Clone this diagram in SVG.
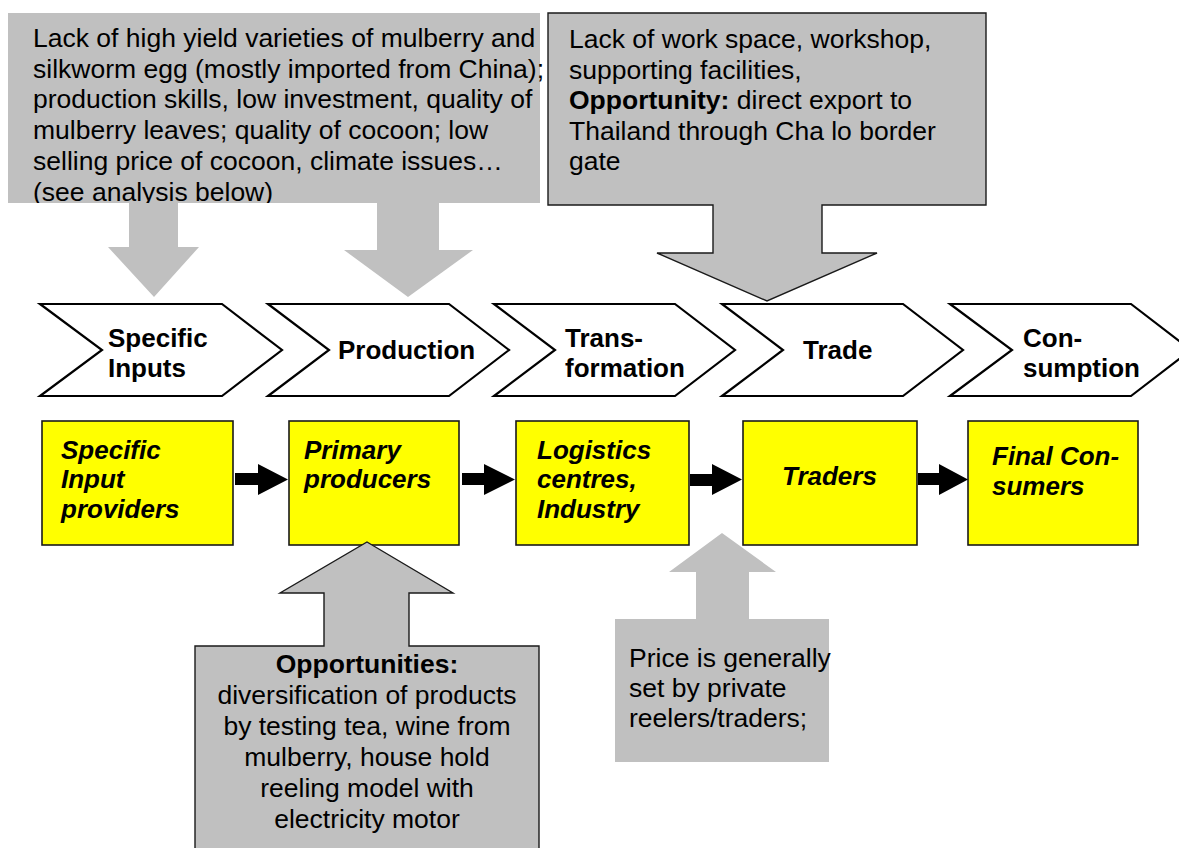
<svg xmlns="http://www.w3.org/2000/svg" width="1179" height="848" viewBox="0 0 1179 848">
<style>
text{font-family:"Liberation Sans",Arial,sans-serif;font-size:26.5px;fill:#000}
.b{font-weight:bold}
.bi{font-weight:bold;font-style:italic;font-size:26px}
.cv{font-weight:bold;font-size:26px}
.gray{fill:#C0C0C0}
.grays{fill:#C0C0C0;stroke:#1a1a1a;stroke-width:1.4}
.chev{fill:#fff;stroke:#000;stroke-width:2.2;stroke-linejoin:miter}
.ybox{fill:#FFFF00;stroke:#1a1a1a;stroke-width:1.6}
.blk{fill:#000}
.c{text-anchor:middle}
</style>
<defs>
<clipPath id="clipTL"><rect x="0" y="0" width="1179" height="203"/></clipPath>
</defs>
<rect width="1179" height="848" fill="#fff"/>

<g id="callout-top-left">
<rect class="gray" x="8" y="13" width="532" height="190"/>
<polygon class="gray" points="129,203 178,203 178,247 199,247 154,297 108,247 129,247"/>
<polygon class="gray" points="377,203 439,203 439,250 473,250 408,297 344,250 377,250"/>
<g clip-path="url(#clipTL)">
<text x="33" y="47">Lack of high yield varieties of mulberry and</text>
<text x="33" y="78">silkworm egg (mostly imported from China);</text>
<text x="33" y="108">production skills, low investment, quality of</text>
<text x="33" y="139">mulberry leaves; quality of cocoon; low</text>
<text x="33" y="170">selling price of cocoon, climate issues…</text>
<text x="33" y="201">(see analysis below)</text>
</g>
</g>

<g id="callout-top-right">
<path class="grays" d="M548,13 H986 V205 H822 V253 H877 L767,301 L657,253 H713 V205 H548 Z"/>
<text x="569" y="48">Lack of work space, workshop,</text>
<text x="569" y="79">supporting facilities,</text>
<text x="569" y="109"><tspan class="b">Opportunity:</tspan> direct export to</text>
<text x="569" y="140">Thailand through Cha lo border</text>
<text x="569" y="170">gate</text>
</g>

<g id="stage-specific-inputs">
<polygon class="chev" points="40,304 222,304 282,350 222,396 40,396 102,350"/>
<text class="cv" x="108" y="347">Specific</text>
<text class="cv" x="108" y="377">Inputs</text>
</g>
<g id="stage-production">
<polygon class="chev" points="268,304 449,304 509,350 449,396 268,396 329,350"/>
<text class="cv" x="338" y="359">Production</text>
</g>
<g id="stage-transformation">
<polygon class="chev" points="494,304 675,304 735,350 675,396 494,396 555,350"/>
<text class="cv" x="565" y="347">Trans-</text>
<text class="cv" x="565" y="377">formation</text>
</g>
<g id="stage-trade">
<polygon class="chev" points="722,304 903,304 963,350 903,396 722,396 783,350"/>
<text class="cv" x="803" y="359">Trade</text>
</g>
<g id="stage-consumption">
<polygon class="chev" points="950,304 1131,304 1191,350 1131,396 950,396 1012,350"/>
<text class="cv" x="1023" y="347">Con-</text>
<text class="cv" x="1023" y="377">sumption</text>
</g>

<g id="actor-input-providers">
<rect class="ybox" x="42" y="421" width="191" height="124"/>
<text class="bi" x="61" y="459">Specific</text>
<text class="bi" x="61" y="488">Input</text>
<text class="bi" x="61" y="518">providers</text>
</g>
<g id="actor-primary-producers">
<rect class="ybox" x="289" y="421" width="170" height="124"/>
<text class="bi" x="304" y="459">Primary</text>
<text class="bi" x="304" y="488">producers</text>
</g>
<g id="actor-logistics">
<rect class="ybox" x="516" y="421" width="173" height="124"/>
<text class="bi" x="537" y="459">Logistics</text>
<text class="bi" x="537" y="488">centres,</text>
<text class="bi" x="537" y="518">Industry</text>
</g>
<g id="actor-traders">
<rect class="ybox" x="743" y="421" width="174" height="124"/>
<text class="bi" x="782" y="485">Traders</text>
</g>
<g id="actor-final-consumers">
<rect class="ybox" x="968" y="421" width="170" height="124"/>
<text class="bi" x="992" y="465">Final Con-</text>
<text class="bi" x="992" y="495">sumers</text>
</g>

<g id="connectors">
<polygon class="blk" points="235,473 258,473 258,464 288,479.5 258,495 258,485 235,485"/>
<polygon class="blk" points="462,473 484,473 484,464 515,479.5 484,495 484,485 462,485"/>
<polygon class="blk" points="690,474 712,474 712,464 742,479.5 712,495 712,486 690,486"/>
<polygon class="blk" points="918,473 939,473 939,464 968,479.5 939,495 939,485 918,485"/>
</g>

<g id="callout-opportunities">
<path class="grays" d="M367,542 L453,593 H409 V646 H539 V860 H195 V646 H324 V593 H280 Z"/>
<text class="b c" x="367" y="673">Opportunities:</text>
<text class="c" x="367" y="704">diversification of products</text>
<text class="c" x="367" y="735">by testing tea, wine from</text>
<text class="c" x="367" y="766">mulberry, house hold</text>
<text class="c" x="367" y="797">reeling model with</text>
<text class="c" x="367" y="828">electricity motor</text>
</g>

<g id="callout-price">
<path class="gray" d="M722,533 L776,572 H749 V619 H829 V762 H615 V619 H696 V572 H669 Z"/>
<text x="629" y="667">Price is generally</text>
<text x="629" y="697">set by private</text>
<text x="629" y="727">reelers/traders;</text>
</g>
</svg>
